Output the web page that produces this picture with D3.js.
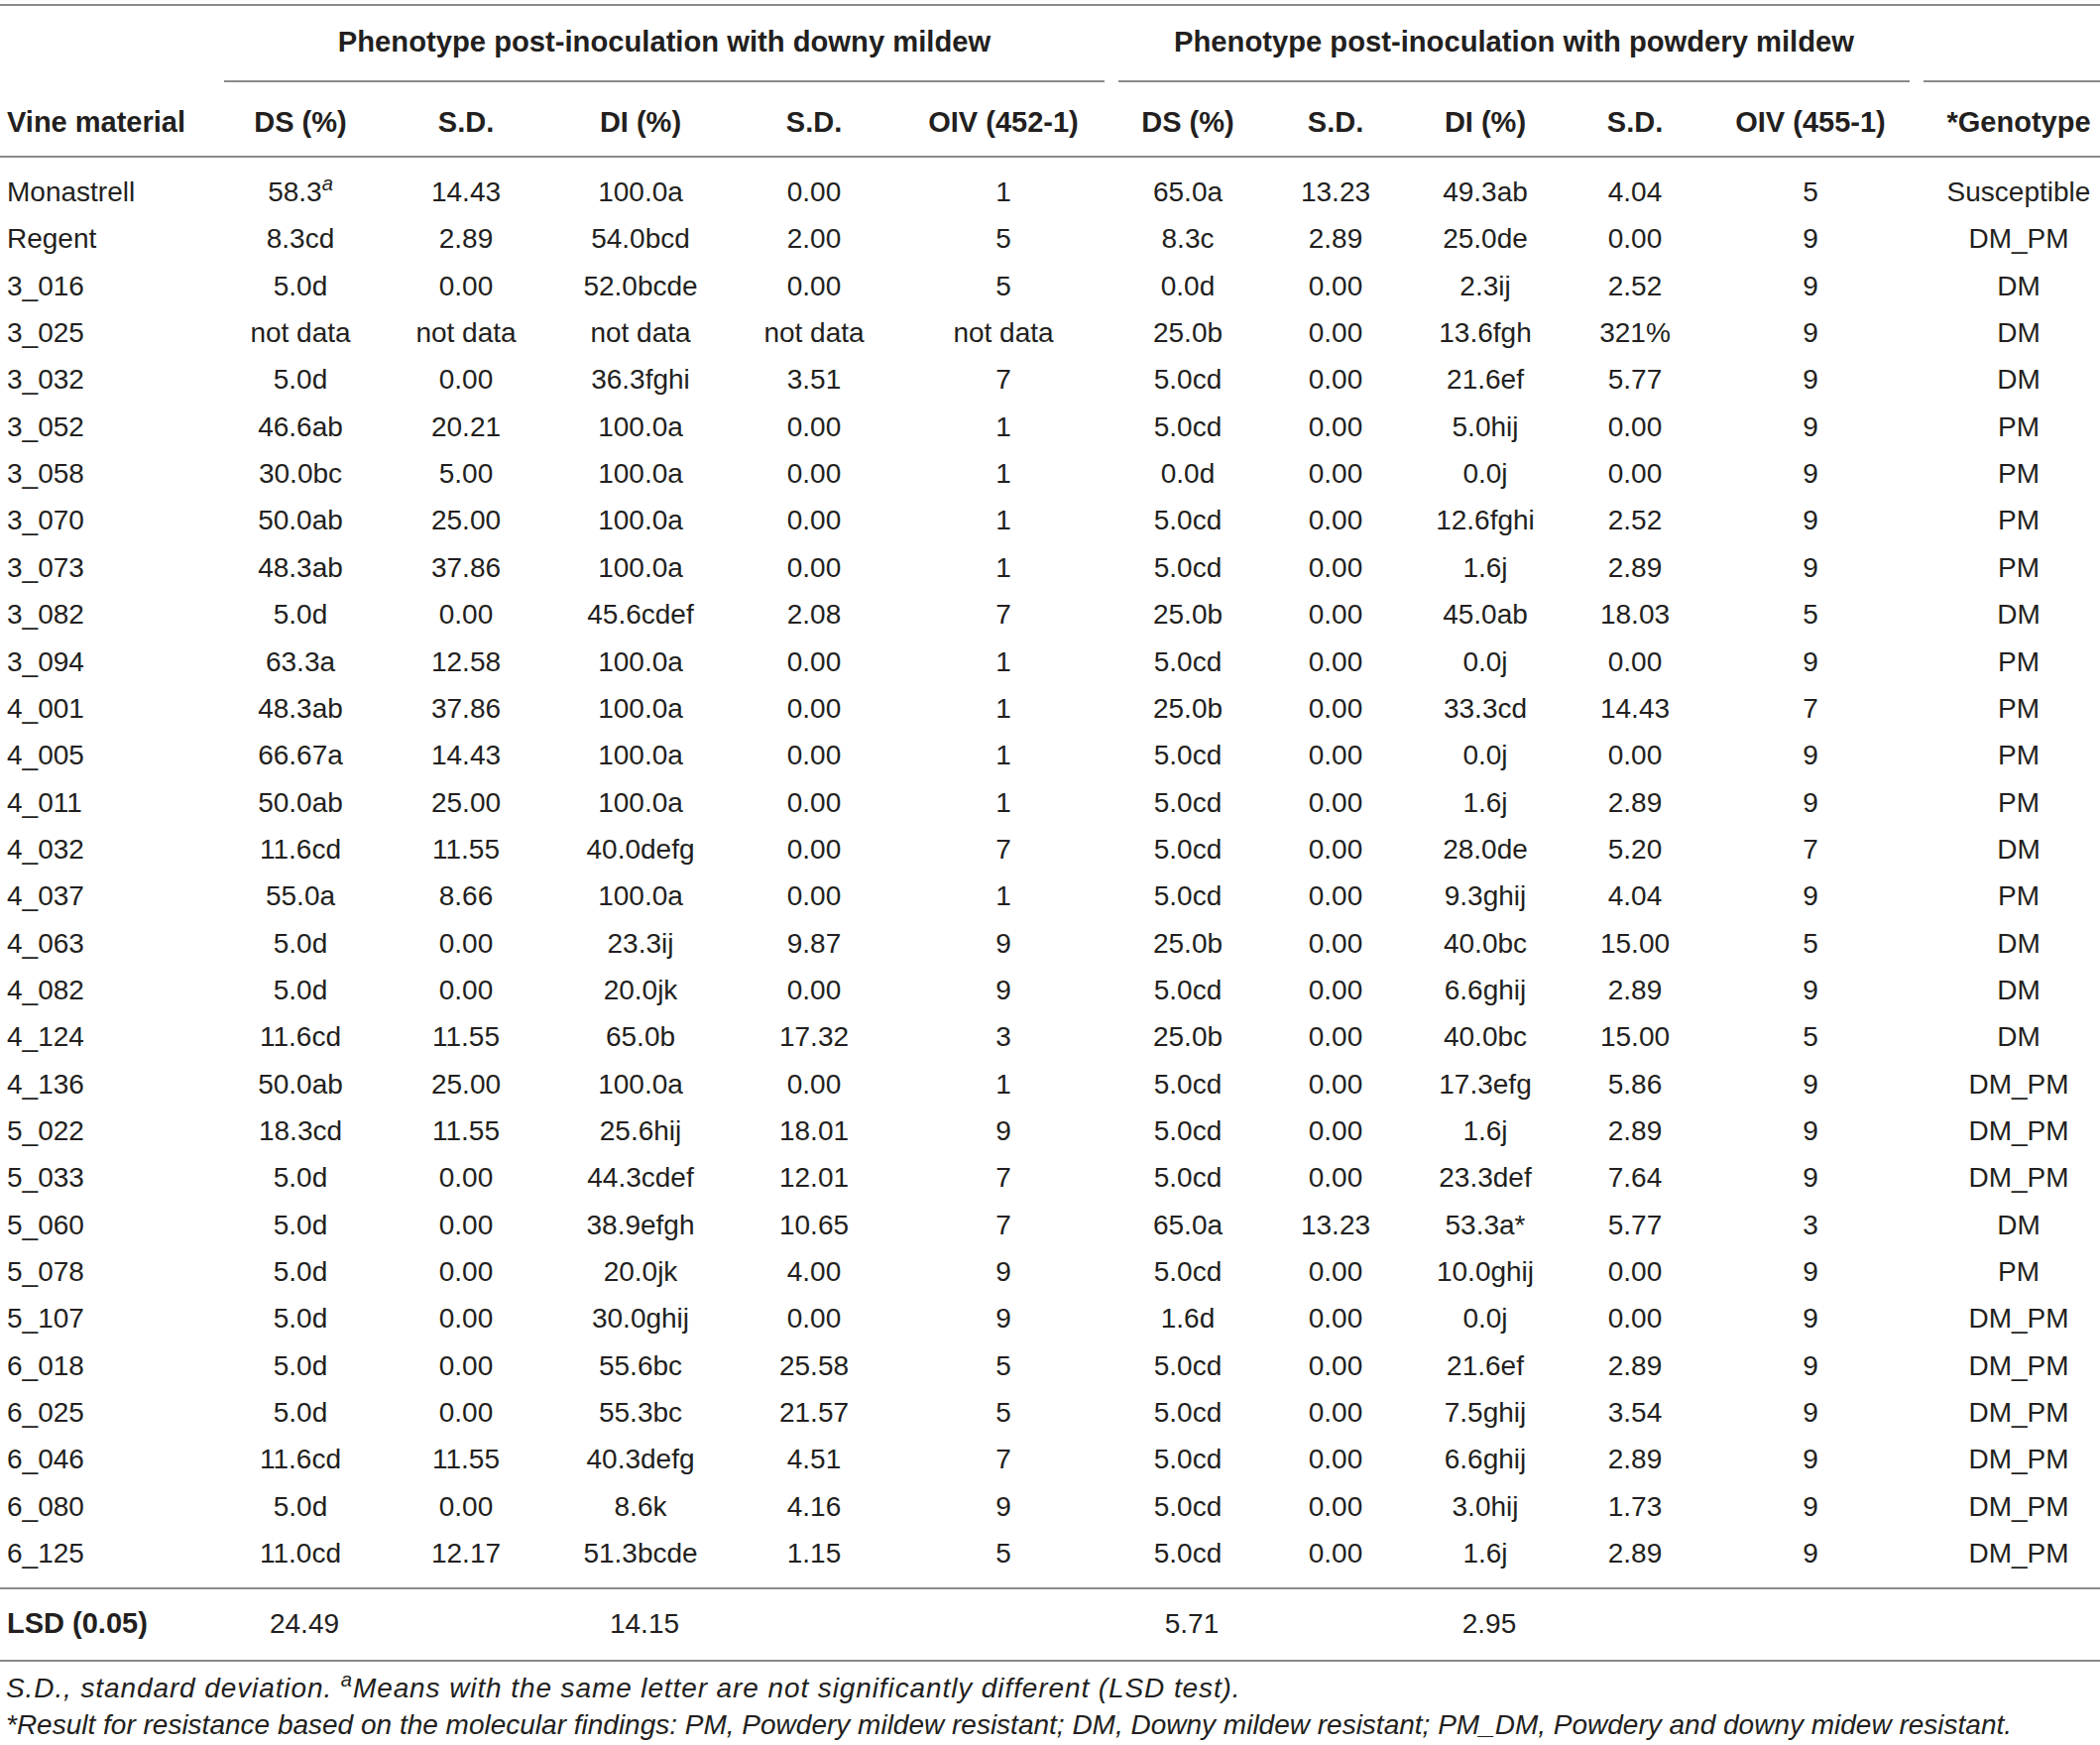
<!DOCTYPE html>
<html>
<head>
<meta charset="utf-8">
<script src="https://cdn.jsdelivr.net/npm/d3@7"></script>
<style>
  html, body { margin: 0; padding: 0; background: #fff; }
  svg { display: block; }
  text { font-family: "Liberation Sans", Arial, Helvetica, sans-serif; }
</style>
</head>
<body>
<svg id="chart" width="2118" height="1760"></svg>
<script>
// ---------- DATA ----------
const groupHeaders = ["Phenotype post-inoculation with downy mildew", "Phenotype post-inoculation with powdery mildew"];
const columnHeaders = ["Vine material", "DS (%)", "S.D.", "DI (%)", "S.D.", "OIV (452-1)", "DS (%)", "S.D.", "DI (%)", "S.D.", "OIV (455-1)", "*Genotype"];
const vineMaterial = ["Monastrell","Regent","3_016","3_025","3_032","3_052","3_058","3_070","3_073","3_082","3_094","4_001","4_005","4_011","4_032","4_037","4_063","4_082","4_124","4_136","5_022","5_033","5_060","5_078","5_107","6_018","6_025","6_046","6_080","6_125"];
const dmDS = ["58.3^a","8.3cd","5.0d","not data","5.0d","46.6ab","30.0bc","50.0ab","48.3ab","5.0d","63.3a","48.3ab","66.67a","50.0ab","11.6cd","55.0a","5.0d","5.0d","11.6cd","50.0ab","18.3cd","5.0d","5.0d","5.0d","5.0d","5.0d","5.0d","11.6cd","5.0d","11.0cd"];
const dmDSsd = ["14.43","2.89","0.00","not data","0.00","20.21","5.00","25.00","37.86","0.00","12.58","37.86","14.43","25.00","11.55","8.66","0.00","0.00","11.55","25.00","11.55","0.00","0.00","0.00","0.00","0.00","0.00","11.55","0.00","12.17"];
const dmDI = ["100.0a","54.0bcd","52.0bcde","not data","36.3fghi","100.0a","100.0a","100.0a","100.0a","45.6cdef","100.0a","100.0a","100.0a","100.0a","40.0defg","100.0a","23.3ij","20.0jk","65.0b","100.0a","25.6hij","44.3cdef","38.9efgh","20.0jk","30.0ghij","55.6bc","55.3bc","40.3defg","8.6k","51.3bcde"];
const dmDIsd = ["0.00","2.00","0.00","not data","3.51","0.00","0.00","0.00","0.00","2.08","0.00","0.00","0.00","0.00","0.00","0.00","9.87","0.00","17.32","0.00","18.01","12.01","10.65","4.00","0.00","25.58","21.57","4.51","4.16","1.15"];
const dmOIV = ["1","5","5","not data","7","1","1","1","1","7","1","1","1","1","7","1","9","9","3","1","9","7","7","9","9","5","5","7","9","5"];
const pmDS = ["65.0a","8.3c","0.0d","25.0b","5.0cd","5.0cd","0.0d","5.0cd","5.0cd","25.0b","5.0cd","25.0b","5.0cd","5.0cd","5.0cd","5.0cd","25.0b","5.0cd","25.0b","5.0cd","5.0cd","5.0cd","65.0a","5.0cd","1.6d","5.0cd","5.0cd","5.0cd","5.0cd","5.0cd"];
const pmDSsd = ["13.23","2.89","0.00","0.00","0.00","0.00","0.00","0.00","0.00","0.00","0.00","0.00","0.00","0.00","0.00","0.00","0.00","0.00","0.00","0.00","0.00","0.00","13.23","0.00","0.00","0.00","0.00","0.00","0.00","0.00"];
const pmDI = ["49.3ab","25.0de","2.3ij","13.6fgh","21.6ef","5.0hij","0.0j","12.6fghi","1.6j","45.0ab","0.0j","33.3cd","0.0j","1.6j","28.0de","9.3ghij","40.0bc","6.6ghij","40.0bc","17.3efg","1.6j","23.3def","53.3a*","10.0ghij","0.0j","21.6ef","7.5ghij","6.6ghij","3.0hij","1.6j"];
const pmDIsd = ["4.04","0.00","2.52","321%","5.77","0.00","0.00","2.52","2.89","18.03","0.00","14.43","0.00","2.89","5.20","4.04","15.00","2.89","15.00","5.86","2.89","7.64","5.77","0.00","0.00","2.89","3.54","2.89","1.73","2.89"];
const pmOIV = ["5","9","9","9","9","9","9","9","9","5","9","7","9","9","7","9","5","9","5","9","9","9","3","9","9","9","9","9","9","9"];
const genotype = ["Susceptible","DM_PM","DM","DM","DM","PM","PM","PM","PM","DM","PM","PM","PM","PM","DM","PM","DM","DM","DM","DM_PM","DM_PM","DM_PM","DM","PM","DM_PM","DM_PM","DM_PM","DM_PM","DM_PM","DM_PM"];
const lsdLabel = "LSD (0.05)";
const lsdColumns = ["dmDS", "dmDI", "pmDS", "pmDI"];
const lsdValues = ["24.49", "14.15", "5.71", "2.95"];
const footnotes = [
  "S.D., standard deviation. ^aMeans with the same letter are not significantly different (LSD test).",
  "*Result for resistance based on the molecular findings: PM, Powdery mildew resistant; DM, Downy mildew resistant; PM_DM, Powdery and downy midew resistant."
];

// ---------- LAYOUT ----------
const W = 2118, H = 1760;
const colKeys = ["vine","dmDS","dmDSsd","dmDI","dmDIsd","dmOIV","pmDS","pmDSsd","pmDI","pmDIsd","pmOIV","geno"];
const colData = [vineMaterial, dmDS, dmDSsd, dmDI, dmDIsd, dmOIV, pmDS, pmDSsd, pmDI, pmDIsd, pmOIV, genotype];
const x = d3.scaleOrdinal().domain(colKeys)
  .range([7, 303, 470, 646, 821, 1012, 1198, 1347, 1498, 1649, 1826, 2036]);
const y = d3.scalePoint().domain(vineMaterial).range([193, 1566]);

const FS = 28;
const textColor = "#231f20";
const ruleColor = "#8a8a8a";

const svg = d3.select("#chart").attr("viewBox", `0 0 ${W} ${H}`);
svg.append("rect").attr("width", W).attr("height", H).attr("fill", "#fff");

function addText(g, str, opts) {
  const size = opts.size || FS;
  const t = g.append("text")
    .attr("x", opts.x).attr("y", opts.y)
    .attr("dy", "0.36em")
    .attr("text-anchor", opts.anchor || "middle")
    .attr("font-size", size)
    .attr("font-weight", opts.bold ? "bold" : "normal")
    .attr("font-style", opts.italic ? "italic" : "normal")
    .attr("fill", textColor);
  if (opts.spacing) t.attr("letter-spacing", opts.spacing);
  const parts = str.split("^");
  t.append("tspan").text(parts[0]);
  if (parts.length > 1) {
    const sup = parts[1].charAt(0);
    t.append("tspan").attr("font-style", "italic").attr("font-size", size * 0.72)
      .attr("baseline-shift", "super").text(sup);
    if (parts[1].length > 1) t.append("tspan").text(parts[1].slice(1));
  }
  return t;
}

// Rules
const rules = svg.append("g").attr("stroke", ruleColor).attr("stroke-width", 1.8);
function rule(x1, x2, yy) { rules.append("line").attr("x1", x1).attr("x2", x2).attr("y1", yy).attr("y2", yy); }
rule(0, W, 5);
rule(226, 1114, 82);
rule(1128, 1926, 82);
rule(1940, W, 82);
rule(0, W, 158);
rule(0, W, 1602);
rule(0, W, 1675);

// Group headers
const gh = svg.append("g");
addText(gh, groupHeaders[0], { x: (226 + 1114) / 2, y: 41, bold: true, size: 29.2 });
addText(gh, groupHeaders[1], { x: (1128 + 1926) / 2, y: 41, bold: true, size: 29.2 });

// Column headers
const ch = svg.append("g");
columnHeaders.forEach((h, i) => {
  addText(ch, h, { x: x(colKeys[i]), y: 123, bold: true, size: 29, anchor: i === 0 ? "start" : "middle" });
});

// Body
const body = svg.append("g");
colKeys.forEach((k, i) => {
  colData[i].forEach((v, r) => {
    addText(body, v, { x: x(k), y: y(vineMaterial[r]), anchor: i === 0 ? "start" : "middle" });
  });
});

// LSD row
const lsd = svg.append("g");
addText(lsd, lsdLabel, { x: x("vine"), y: 1637, bold: true, size: 29, anchor: "start" });
lsdColumns.forEach((k, i) => addText(lsd, lsdValues[i], { x: x(k) + 4, y: 1637 }));

// Footnotes
const fn = svg.append("g");
addText(fn, footnotes[0], { x: 6, y: 1702, italic: true, anchor: "start", size: 28, spacing: 0.9 });
addText(fn, footnotes[1], { x: 6, y: 1739, italic: true, anchor: "start", size: 28 });
</script>
</body>
</html>
